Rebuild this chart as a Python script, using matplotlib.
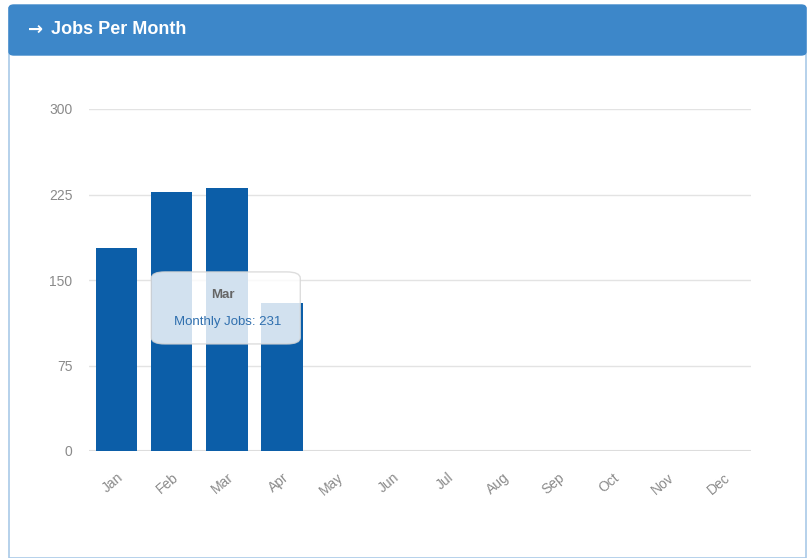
import matplotlib
matplotlib.use('Agg')
import matplotlib.pyplot as plt
from matplotlib.patches import FancyBboxPatch, Rectangle

months = ['Jan', 'Feb', 'Mar', 'Apr', 'May', 'Jun', 'Jul', 'Aug', 'Sep', 'Oct', 'Nov', 'Dec']
jobs = [178, 227, 231, 130, 0, 0, 0, 0, 0, 0, 0, 0]
yticks = [0, 75, 150, 225, 300]
title_icon = '\u2192'
title = 'Jobs Per Month'
tip_month = 'Mar'
tip_label = 'Monthly Jobs: 231'

plt.rcParams['font.family'] = ['Liberation Sans', 'DejaVu Sans']

W, H = 811, 558
fig = plt.figure(figsize=(W / 100, H / 100), dpi=100)
fig.patch.set_facecolor('white')

# panel body + header
fig.patches.append(Rectangle((9 / W, 0), 797 / W, 1 - 8 / H, transform=fig.transFigure,
                             facecolor='white', edgecolor='#a9c9e8', lw=1.2, zorder=-5))
fig.patches.append(FancyBboxPatch((9 / W, 1 - 55 / H), 797 / W, 50 / H,
                                  boxstyle='round,pad=0,rounding_size=0.006',
                                  transform=fig.transFigure, facecolor='#3d87c9',
                                  edgecolor='#3d87c9', zorder=-4))
fig.text(28 / W, 1 - 30 / H, title_icon, color='white', fontsize=13, fontweight='bold',
         va='center', ha='left', family='DejaVu Sans')
fig.text(51 / W, 1 - 30 / H, title, color='white', fontsize=13, fontweight='bold',
         va='center', ha='left')

ax = fig.add_axes([89 / W, 1 - 451 / H, 662 / W, (451 - 109) / H])
ax.set_facecolor('none')
x = range(len(months))
ax.bar(x, jobs, width=0.75, color='#0c5ea8', zorder=2)
ax.set_xlim(-0.5, 11.5)
ax.set_ylim(0, 300)
ax.set_yticks(yticks)
ax.set_xticks(list(x))
ax.set_xticklabels(months, rotation=40, ha='right', rotation_mode='anchor')
ax.tick_params(colors='#8a8a8a', labelsize=10, length=0)
ax.tick_params(axis='y', pad=12)
ax.tick_params(axis='x', pad=14)
ax.grid(axis='y', color='#e3e3e3', lw=1, zorder=0)
for s in ax.spines.values():
    s.set_visible(False)
ax.axhline(0, color='#dcdcdc', lw=1.5, zorder=1)

# tooltip
tip = FancyBboxPatch((0.68, 95), 2.6, 61, boxstyle='round,pad=0.05,rounding_size=0.25',
                     mutation_aspect=22, facecolor='white', alpha=0.82,
                     edgecolor='#d6d6d6', lw=1, zorder=3)
ax.add_patch(tip)
ax.text(1.93, 137, tip_month, ha='center', va='center', fontsize=9.5, fontweight='bold',
        color='#666666', zorder=4)
ax.text(2.02, 113, tip_label, ha='center', va='center', fontsize=9.5,
        color='#2f6fae', zorder=4)

fig.savefig('out.png', dpi=100)
